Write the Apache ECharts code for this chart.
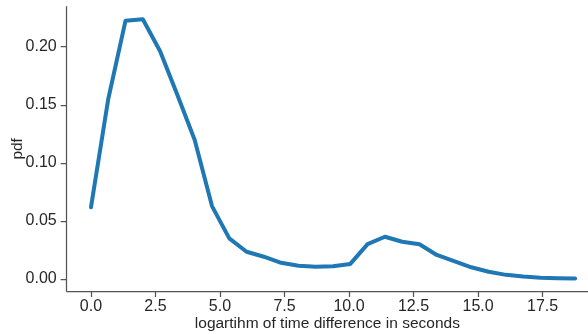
<!DOCTYPE html>
<html>
<head>
<meta charset="utf-8">
<script src="https://cdn.jsdelivr.net/npm/echarts@6/dist/echarts.min.js"></script>
<style>html,body{margin:0;padding:0;background:#fff;}#c{width:588px;height:334px;}</style>
</head>
<body>
<div id="c"></div>
<script>
// x positions (log seconds) and pdf values
const xValues = [0, 0.67, 1.34, 2.01, 2.68, 3.35, 4.02, 4.69, 5.36, 6.03, 6.70, 7.37, 8.04, 8.71, 9.38, 10.05, 10.72, 11.39, 12.06, 12.73, 13.40, 14.07, 14.74, 15.41, 16.08, 16.75, 17.42, 18.09, 18.76];
const pdfValues = [0.0617, 0.155, 0.2224, 0.2236, 0.196, 0.1584, 0.1197, 0.0628, 0.0350, 0.0235, 0.0192, 0.0140, 0.0114, 0.0106, 0.0110, 0.0130, 0.0301, 0.0364, 0.0321, 0.0299, 0.0207, 0.0155, 0.0101, 0.0063, 0.0036, 0.0021, 0.0012, 0.0007, 0.0005];
const xTicks = [0, 2.5, 5, 7.5, 10, 12.5, 15, 17.5];
const yTicks = [0, 0.05, 0.10, 0.15, 0.20];

const chart = echarts.init(document.getElementById('c'));
const font = 'Liberation Sans, Arial, sans-serif';
chart.setOption({
  animation: false,
  grid: {left: 66.7, right: 0, top: 6.7, bottom: 43, containLabel: false, outerBoundsMode: 'none'},
  xAxis: {
    type: 'value', min: -0.94, max: 19.26,
    name: 'logartihm of time difference in seconds',
    nameLocation: 'middle', nameGap: 24.5, nameMoveOverlap: false,
    nameTextStyle: {fontFamily: font, fontSize: 15.5, color: '#262626'},
    axisLine: {show: true, onZero: false, lineStyle: {color: '#555', width: 1.25}},
    axisTick: {show: true, length: 6, lineStyle: {color: '#555', width: 1.25}, customValues: xTicks},
    axisLabel: {fontFamily: font, fontSize: 16, color: '#262626', margin: 8, customValues: xTicks,
      formatter: v => v.toFixed(1)},
    splitLine: {show: false}
  },
  yAxis: {
    type: 'value', min: -0.0103, max: 0.2344,
    name: 'pdf', nameLocation: 'middle', nameGap: 41, nameMoveOverlap: false,
    nameTextStyle: {fontFamily: font, fontSize: 15.5, color: '#262626'},
    axisLine: {show: true, onZero: false, lineStyle: {color: '#555', width: 1.25}},
    axisTick: {show: true, length: 6, lineStyle: {color: '#555', width: 1.25}, customValues: yTicks},
    axisLabel: {fontFamily: font, fontSize: 16, color: '#262626', margin: 10, customValues: yTicks,
      formatter: v => v.toFixed(2)},
    splitLine: {show: false}
  },
  series: [{
    type: 'line',
    data: xValues.map((x, i) => [x, pdfValues[i]]),
    showSymbol: false,
    lineStyle: {color: '#1f77b4', width: 4, cap: 'round', join: 'round'},
    itemStyle: {color: '#1f77b4'}
  }]
});
</script>
</body>
</html>
